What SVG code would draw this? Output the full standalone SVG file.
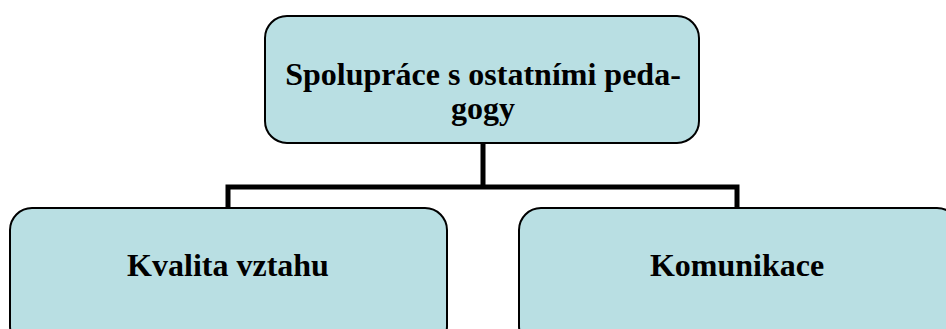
<svg xmlns="http://www.w3.org/2000/svg" width="946" height="329" viewBox="0 0 946 329">
<style>
.box{fill:#b9dfe3;stroke:#000;stroke-width:2}
.lbl{font-family:"Liberation Serif","Times New Roman",serif;font-weight:bold;font-size:32px;fill:#000;text-anchor:middle}
.con{fill:none;stroke:#000;stroke-width:5}
</style>
<rect width="946" height="329" fill="#fff"/>
<g id="connectors">
<path class="con" d="M483 143 V187 M228 207 V187 H737 V207"/>
</g>
<g id="top">
<rect class="box" x="265" y="16" width="434" height="127" rx="22"/>
<text class="lbl" x="483" y="85">Spolupráce s ostatními peda-</text>
<text class="lbl" x="483" y="119">gogy</text>
</g>
<g id="left">
<rect class="box" x="10" y="208" width="437" height="140" rx="22"/>
<text class="lbl" x="228" y="276">Kvalita vztahu</text>
</g>
<g id="right">
<rect class="box" x="519" y="208" width="440" height="140" rx="22"/>
<text class="lbl" x="737" y="276">Komunikace</text>
</g>
</svg>
